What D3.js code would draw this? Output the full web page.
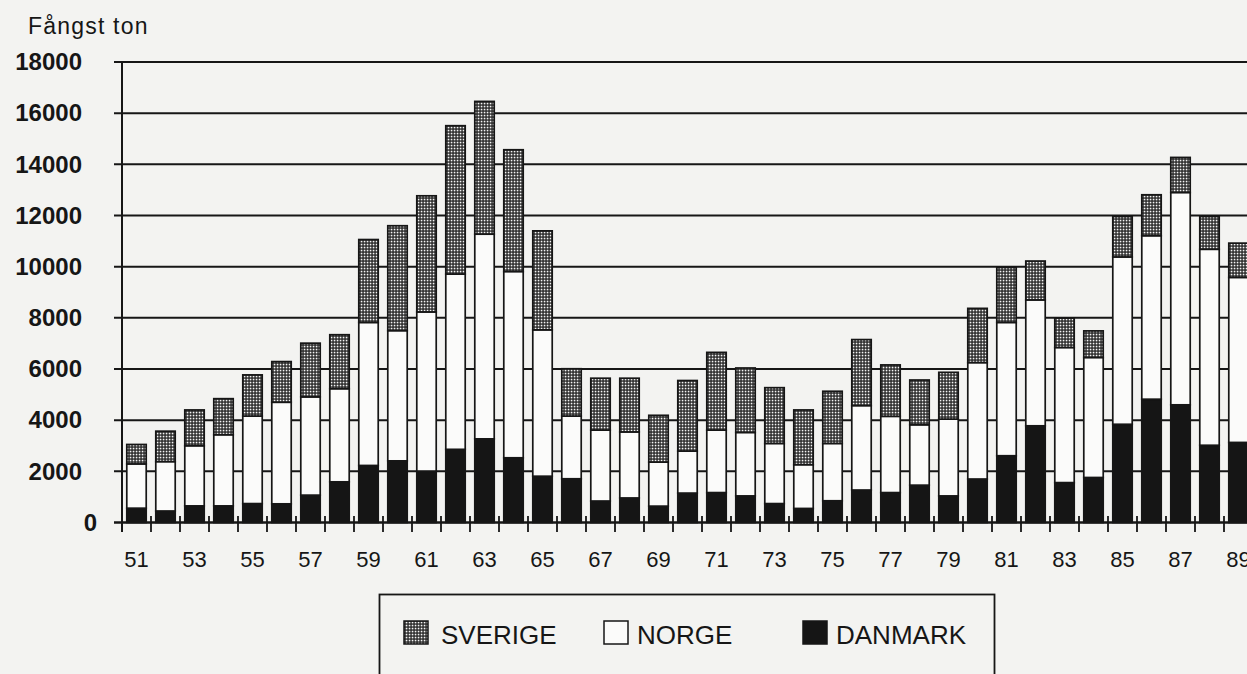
<!DOCTYPE html>
<html>
<head>
<meta charset="utf-8">
<script src="https://cdn.jsdelivr.net/npm/d3@7"></script>
<style>
  html, body { margin: 0; padding: 0; background: #f3f3f1; }
  svg { display: block; }
  text { font-family: "Liberation Sans", Arial, Helvetica, sans-serif; fill: #161616; }
</style>
</head>
<body>
<script>
// Fångst (ton) per år, staplad per land
const years = ["51","52","53","54","55","56","57","58","59","60",
               "61","62","63","64","65","66","67","68","69","70",
               "71","72","73","74","75","76","77","78","79","80",
               "81","82","83","84","85","86","87","88","89"];

const danmark = [560, 450, 650, 650, 740, 730, 1070, 1590, 2230, 2410,
                 2010, 2860, 3270, 2530, 1810, 1710, 840, 960, 640, 1150,
                 1170, 1040, 740, 550, 850, 1270, 1170, 1460, 1040, 1700,
                 2610, 3780, 1560, 1760, 3840, 4820, 4600, 3020, 3130];

const norge = [1730, 1930, 2350, 2780, 3420, 3970, 3840, 3640, 5590, 5090,
               6220, 6850, 8000, 7280, 5720, 2450, 2770, 2580, 1720, 1640,
               2440, 2480, 2350, 1710, 2240, 3300, 2980, 2360, 3000, 4550,
               5210, 4920, 5280, 4690, 6540, 6390, 8300, 7660, 6450];

const sverige = [760, 1190, 1400, 1410, 1610, 1590, 2100, 2110, 3240, 4100,
                 4540, 5800, 5190, 4760, 3870, 1850, 2030, 2100, 1830, 2760,
                 3040, 2520, 2180, 2140, 2040, 2580, 2010, 1750, 1830, 2120,
                 2150, 1520, 1150, 1040, 1580, 1600, 1370, 1280, 1340];

const yTicks = [0, 2000, 4000, 6000, 8000, 10000, 12000, 14000, 16000, 18000];
const xTickLabels = ["51","53","55","57","59","61","63","65","67","69",
                     "71","73","75","77","79","81","83","85","87","89"];
const seriesKeys = ["danmark", "norge", "sverige"];
const legendItems = [
  { key: "sverige", label: "SVERIGE" },
  { key: "norge", label: "NORGE" },
  { key: "danmark", label: "DANMARK" }
];

const W = 1247, H = 674;
const INK = "#161616";

const svg = d3.select("body").append("svg")
  .attr("width", W).attr("height", H);

// fine dot screen used for Sverige
const defs = svg.append("defs");
const pat = defs.append("pattern")
  .attr("id", "dots")
  .attr("patternUnits", "userSpaceOnUse")
  .attr("width", 3).attr("height", 3);
pat.append("rect").attr("width", 3).attr("height", 3).attr("fill", "#222");
pat.append("rect").attr("x", 0.7).attr("y", 0.7)
  .attr("width", 1.7).attr("height", 1.7).attr("fill", "#f4f4f4");

const fills = { danmark: "#151515", norge: "#fbfbfa", sverige: "url(#dots)" };

// scales
const axisX = 122, step = 29;
const x = d3.scaleBand()
  .domain(years)
  .range([axisX, axisX + step * years.length])
  .paddingInner(0.33)
  .paddingOuter(0.165);

const y = d3.scaleLinear().domain([0, 18000]).range([522.5, 62]);

// horizontal grid lines
svg.append("g").selectAll("line")
  .data(yTicks)
  .join("line")
  .attr("x1", 114).attr("x2", W)
  .attr("y1", d => y(d)).attr("y2", d => y(d))
  .attr("stroke", INK).attr("stroke-width", 2);

// y axis labels via d3 axis
const yAxis = svg.append("g")
  .attr("transform", `translate(82,0)`)
  .call(d3.axisLeft(y).tickValues(yTicks).tickSize(0).tickPadding(0).tickFormat(d3.format("d")));
yAxis.select(".domain").remove();
yAxis.selectAll("text")
  .attr("x", d => d === 0 ? 15 : 0)
  .style("font-size", "24px")
  .style("font-weight", "bold")
  .style("font-family", '"Liberation Sans", Arial, sans-serif')
  .attr("fill", INK);

// stacked bars
const rows = years.map((yr, i) => ({
  year: yr, danmark: danmark[i], norge: norge[i], sverige: sverige[i]
}));
const stacked = d3.stack().keys(seriesKeys)(rows);

svg.append("g").selectAll("g")
  .data(stacked)
  .join("g")
  .attr("fill", d => fills[d.key])
  .selectAll("rect")
  .data(d => d)
  .join("rect")
  .attr("x", d => x(d.data.year))
  .attr("width", x.bandwidth())
  .attr("y", d => y(d[1]))
  .attr("height", d => y(d[0]) - y(d[1]))
  .attr("stroke", INK)
  .attr("stroke-width", 1.7);

// vertical axis line
svg.append("line")
  .attr("x1", axisX).attr("x2", axisX)
  .attr("y1", y(18000)).attr("y2", 532)
  .attr("stroke", INK).attr("stroke-width", 2);

// baseline redrawn over bars
svg.append("line")
  .attr("x1", 114).attr("x2", W)
  .attr("y1", y(0)).attr("y2", y(0))
  .attr("stroke", INK).attr("stroke-width", 2);

// tick marks between bars
const boundaries = years.slice(0, -1).map(yr => x(yr) + x.bandwidth() + x.step() * x.paddingInner() / 2);
svg.append("g").selectAll("line")
  .data(boundaries)
  .join("line")
  .attr("x1", d => d).attr("x2", d => d)
  .attr("y1", 516).attr("y2", 532)
  .attr("stroke", INK).attr("stroke-width", 1.8);

// x labels
svg.append("g").selectAll("text")
  .data(xTickLabels)
  .join("text")
  .attr("x", d => x(d) + x.bandwidth() / 2)
  .attr("y", 567)
  .attr("text-anchor", "middle")
  .style("font-size", "22px")
  .text(d => d);

// unit title
svg.append("text")
  .attr("x", 28).attr("y", 34)
  .style("font-size", "23px")
  .style("letter-spacing", "1.2px")
  .text("Fångst ton");

// legend
const lg = svg.append("g");
lg.append("rect")
  .attr("x", 379.5).attr("y", 594.5)
  .attr("width", 615).attr("height", 120)
  .attr("fill", "none").attr("stroke", INK).attr("stroke-width", 1.8);

const legendPos = [
  { sx: 404, tx: 441 },
  { sx: 604, tx: 637 },
  { sx: 803, tx: 836 }
];
legendItems.forEach((item, i) => {
  const p = legendPos[i];
  lg.append("rect")
    .attr("x", p.sx).attr("y", 621)
    .attr("width", 24).attr("height", 23)
    .attr("fill", fills[item.key])
    .attr("stroke", INK).attr("stroke-width", 1.5);
  lg.append("text")
    .attr("x", p.tx).attr("y", 644)
    .style("font-size", "26px")
    .text(item.label);
});
</script>
</body>
</html>
